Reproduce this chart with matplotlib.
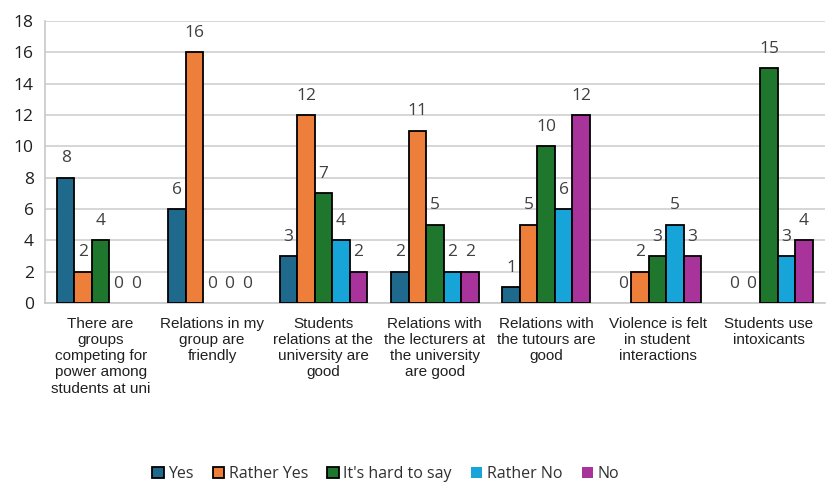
import numpy as np
import matplotlib
matplotlib.use("Agg")
import matplotlib.pyplot as plt

# survey answers per statement
categories = [
    "There are\ngroups\ncompeting for\npower among\nstudents at uni",
    "Relations in my\ngroup are\nfriendly",
    "Students\nrelations at the\nuniversity are\ngood",
    "Relations with\nthe lecturers at\nthe university\nare good",
    "Relations with\nthe tutours are\ngood",
    "Violence is felt\nin student\ninteractions",
    "Students use\nintoxicants",
]
series_names = ["Yes", "Rather Yes", "It's hard to say", "Rather No", "No"]
yes = [8, 6, 3, 2, 1, 0, 0]
rather_yes = [2, 16, 12, 11, 5, 2, 0]
hard_to_say = [4, 0, 7, 5, 10, 3, 15]
rather_no = [0, 0, 4, 2, 6, 5, 3]
no = [0, 0, 2, 2, 12, 3, 4]
colors = ["#1f6a8c", "#ed7f3b", "#1f772e", "#17a5d9", "#a8339a"]

series = [yes, rather_yes, hard_to_say, rather_no, no]

plt.rcParams['font.family'] = ['Open Sans', 'DejaVu Sans']

fig = plt.figure(figsize=(8.28, 4.87), dpi=100)
ax = fig.add_axes([0.0543, 0.378, 0.9417, 0.579])

x = np.arange(len(categories))
w = 0.157
for i, (vals, col, name) in enumerate(zip(series, colors, series_names)):
    pos = x + (i - 2) * w
    # zero-height bars get no outline
    lw = [1.3 if v else 0 for v in vals]
    ax.bar(pos, vals, width=w, color=col, edgecolor="black",
           linewidth=lw, label=name, zorder=3)
    for p, v in zip(pos, vals):
        ax.annotate(str(v), (p, v), xytext=(0, 8), textcoords="offset points",
                    ha="center", va="bottom", fontsize=12.5, color="#404040")

ax.set_xlim(-0.5, len(categories) - 0.5)
ax.set_ylim(0, 18)
ax.set_yticks(range(0, 19, 2))
ax.tick_params(axis="y", length=0, labelsize=12.5, pad=8, labelcolor="#202020")
ax.tick_params(axis="x", length=0, pad=10)
ax.set_xticks(x)
ax.set_xticklabels(categories, fontsize=11, family="Liberation Sans",
                   color="#202020", linespacing=1.2)
ax.grid(axis="y", color="#d0d0d0", linewidth=1.2, zorder=0)
for s in ["top", "right"]:
    ax.spines[s].set_visible(False)
for s in ["left", "bottom"]:
    ax.spines[s].set_color("#c8c8c8")
    ax.spines[s].set_linewidth(1.2)

leg = fig.legend(loc="lower center", bbox_to_anchor=(0.466, -0.02), ncol=5,
                 frameon=False, fontsize=11.5, handlelength=0.7,
                 handleheight=0.7, handletextpad=0.3, columnspacing=1.2,
                 labelcolor="#303030")

fig.savefig("out.png", dpi=100)
